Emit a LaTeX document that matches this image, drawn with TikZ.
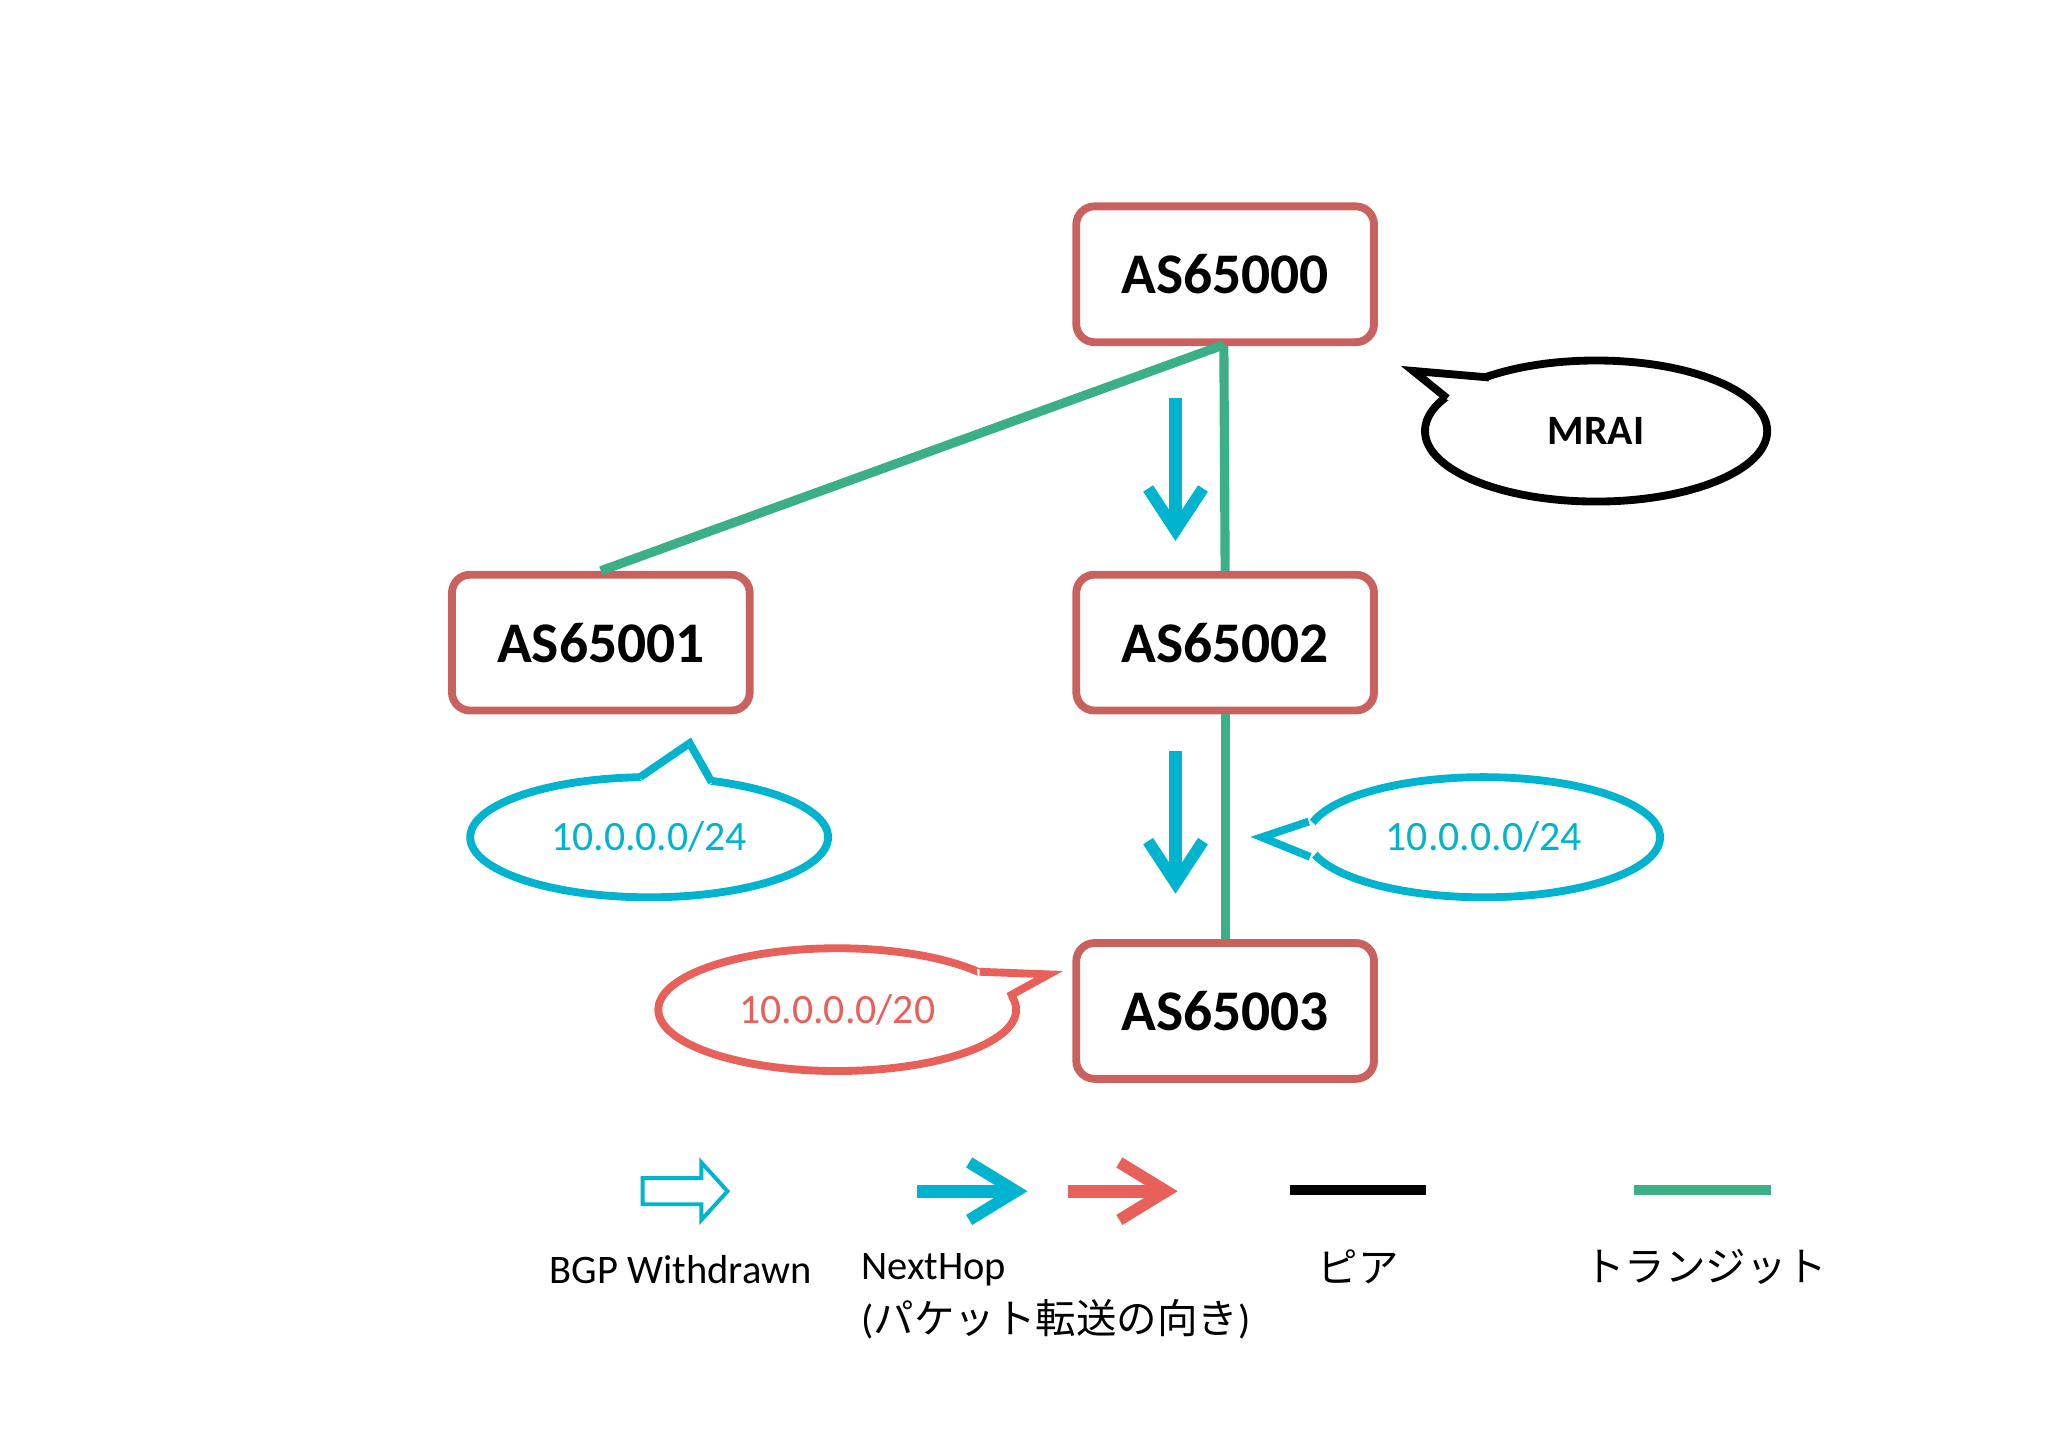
\documentclass[tikz,border=0pt]{standalone}
\usepackage{fontspec}
\setmainfont{Carlito}
\newfontfamily\cjk{Noto Sans CJK JP}
\usetikzlibrary{shapes.geometric}
\definecolor{boxred}{HTML}{C9625E}
\definecolor{trgreen}{HTML}{3BAF85}
\definecolor{nhcyan}{HTML}{00B4D0}
\definecolor{nhred}{HTML}{E8605A}
\begin{document}
\begin{tikzpicture}[x=1pt,y=-1pt,
  as/.style={draw=boxred,line width=6pt,rounded corners=14pt,minimum width=228pt,minimum height=104pt,font=\bfseries\fontsize{44}{48}\selectfont},
  trans/.style={trgreen,line width=7pt},
  bub/.style={ellipse,line width=6pt,fill=white},
  nh/.style={line width=10pt},
  lg/.style={font=\fontsize{31}{36}\selectfont}]
\useasboundingbox (0,0) rectangle (1568,1108);
\node[as] (a0) at (938,210) {AS65000};
\node[as] (a1) at (460,492) {AS65001};
\node[as] (a2) at (938,492) {AS65002};
\node[as] (a3) at (938,774) {AS65003};
\coordinate (t0) at (937,264);
\coordinate (t1) at (460,437);
\draw[trans] (t0) -- (t1);
\draw[trans] (t0) -- (a2.north);
\draw[trans] (a2.south) -- (a3.north);
% nexthop arrows
\foreach \x/\ya/\yb [count=\i] in {900/305/412, 900/575/682}{
  \draw[nhcyan,nh] (\x,\ya) -- (\x,\yb-8);
  \draw[nhcyan,line width=9pt,miter limit=10] (\x-21,\yb-38) -- (\x,\yb-6) -- (\x+21,\yb-38);
}
% MRAI
\node[bub,draw=black,minimum width=262pt,minimum height=108pt,font=\bfseries\fontsize{32}{36}\selectfont] (mr) at (1222,330) {MRAI};
\coordinate (mrt) at (1082,284);
\fill[white] (1140,291) -- (mrt) -- (1108,306) -- (1140,312) -- cycle;
\draw[line width=6pt,line join=miter] (1140,289) -- (mrt) -- (1108,305);
% left cyan
\node[bub,draw=nhcyan,text=nhcyan,minimum width=274pt,minimum height=92pt,font=\fontsize{32}{36}\selectfont] (c1) at (497,641) {10.0.0.0/24};
\coordinate (c1t) at (528,569);
\fill[white] (490,597) -- (c1t) -- (545,600) -- (517,612) -- cycle;
\draw[nhcyan,line width=6pt,line join=miter] (490,595) -- (c1t) -- (545,599);
% right cyan
\node[bub,draw=nhcyan,text=nhcyan,minimum width=270pt,minimum height=92pt,font=\fontsize{32}{36}\selectfont] (c2) at (1136,641) {10.0.0.0/24};
\coordinate (c2t) at (966,641);
\fill[white] (1003,628) -- (c2t) -- (1004,657) -- (1018,642) -- cycle;
\draw[nhcyan,line width=6pt,line join=miter] (1002,629) -- (c2t) -- (1003,656);
% red
\node[bub,draw=nhred,text=nhred,minimum width=274pt,minimum height=94pt,font=\fontsize{32}{36}\selectfont] (r1) at (641,773) {10.0.0.0/20};
\coordinate (r1t) at (803,746);
\fill[white] (748,742) -- (r1t) -- (773,764) -- (750,760) -- cycle;
\draw[nhred,line width=6pt,line join=miter] (750,744) -- (r1t) -- (772,763);
% legend
\draw[nhcyan,line width=3pt] (492,902) -- (537,902) -- (537,890) -- (557,912) -- (537,934) -- (537,922) -- (492,922) -- cycle;
\draw[nhcyan,nh] (702,912) -- (770,912);
\draw[nhcyan,line width=9pt,miter limit=10] (742,890) -- (778,912) -- (742,934);
\draw[nhred,nh] (818,912) -- (885,912);
\draw[nhred,line width=9pt,miter limit=10] (857,890) -- (893,912) -- (857,934);
\coordinate (p1) at (988,911); \coordinate (p2) at (1092,911);
\draw[black,line width=8pt] (p1) -- (p2);
\coordinate (g1) at (1251,911); \coordinate (g2) at (1356,911);
\draw[trgreen,line width=8pt] (g1) -- (g2);
\node[lg] (l1) at (521,972) {BGP Withdrawn};
\node[lg,anchor=west] (l2) at (656,972) {NextHop};
\node[lg,anchor=west] (l3) at (656,1010) {(\cjk パケット転送の向き\normalfont)};
\node[lg] (l4) at (1040,970) {\cjk ピア};
\node[lg] (l5) at (1306,970) {\cjk トランジット};
\end{tikzpicture}
\end{document}
